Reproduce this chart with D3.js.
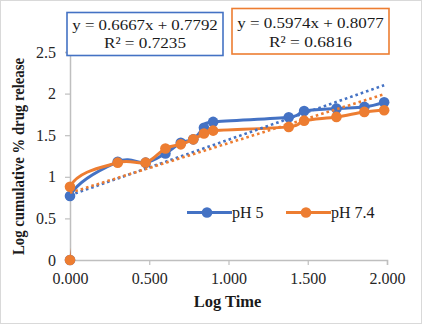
<!DOCTYPE html>
<html><head><meta charset="utf-8">
<script src="https://cdn.jsdelivr.net/npm/d3@7"></script>
<style>body{margin:0;background:#fff}svg{display:block}
svg text{font-family:"Liberation Serif","Times New Roman",Times,"DejaVu Serif","Noto Serif",serif !important}</style>
</head><body><svg id="c" width="422" height="324"></svg>
<script>
const logTime = [0, 0, 0.301, 0.477, 0.602, 0.699, 0.778, 0.845, 0.903, 1.380, 1.477, 1.681, 1.857, 1.982];
const ph5 =     [0, 0.77, 1.18, 1.17, 1.28, 1.41, 1.45, 1.59, 1.66, 1.715, 1.79, 1.82, 1.84, 1.895];
const ph74 =    [0, 0.88, 1.17, 1.17, 1.34, 1.39, 1.45, 1.52, 1.555, 1.60, 1.675, 1.72, 1.78, 1.80];
const seriesNames = ["pH 5", "pH 7.4"];
const colors = ["#4472C4", "#ED7D31"];
const trend = [{m: 0.6667, b: 0.7792, r2: 0.7235}, {m: 0.5974, b: 0.8077, r2: 0.6816}];
const xTicks = [0, 0.5, 1, 1.5, 2];
const yTicks = [0, 0.5, 1, 1.5, 2, 2.5];

const svg = d3.select("#c");
svg.append("rect").attr("x",0.5).attr("y",0.5).attr("width",421).attr("height",323)
  .attr("fill","#fff").attr("stroke","#d9d9d9");

const x = d3.scaleLinear().domain([0,2]).range([70,387]);
const y = d3.scaleLinear().domain([0,2.5]).range([260,52]);
const axisColor = "#bfbfbf";

svg.append("clipPath").attr("id","plotclip").append("rect")
  .attr("x",x(0)).attr("y",0).attr("width",x(2)-x(0)+10).attr("height",y(0));

const xa = svg.append("g").attr("transform","translate(0,260)")
  .call(d3.axisBottom(x).tickValues(xTicks).tickFormat(d3.format(".3f")).tickSize(5).tickPadding(8));
const ya = svg.append("g").attr("transform","translate(70,0)")
  .call(d3.axisLeft(y).tickValues(yTicks).tickFormat(d=>String(d)).tickSize(5).tickPadding(9));
[xa,ya].forEach(a=>{
  a.attr("font-family",null);
  a.select(".domain").attr("stroke",axisColor).attr("stroke-width",1.5);
  a.selectAll(".tick line").attr("stroke",axisColor).attr("stroke-width",1.2);
  a.selectAll(".tick text").attr("fill","#262626").style("font-size","16px");
});

const data = [ph5, ph74];
const line = d3.line().x(d=>x(d[0])).y(d=>y(d[1])).curve(d3.curveCatmullRom.alpha(0));
data.forEach((s,i)=>{
  const pts = logTime.map((t,j)=>[t,s[j]]);
  svg.append("path").attr("d",line(pts)).attr("fill","none").attr("clip-path","url(#plotclip)")
    .attr("stroke",colors[i]).attr("stroke-width",3).attr("stroke-linejoin","round");
  svg.selectAll(null).data(pts).enter().append("circle")
    .attr("cx",d=>x(d[0])).attr("cy",d=>y(d[1])).attr("r",5.3).attr("fill",colors[i]);
});
trend.forEach((t,i)=>{
  const x1 = d3.max(logTime);
  svg.append("line").attr("x1",x(0)).attr("y1",y(t.b)).attr("x2",x(x1)).attr("y2",y(t.m*x1+t.b))
    .attr("stroke",colors[i]).attr("stroke-width",2.6).attr("stroke-dasharray","2.6,3");
});

const boxes = [{x:67,y:12.5,w:156,h:43,l1:145.5,l2:82,b1:30,b2:47.8},
               {x:232,y:8.5,w:157,h:45.5,l1:146.5,l2:83,b1:28.3,b2:46.5}];
trend.forEach((t,i)=>{
  const b = boxes[i];
  svg.append("rect").attr("x",b.x).attr("y",b.y).attr("width",b.w).attr("height",b.h)
    .attr("fill","#fff").attr("stroke",colors[i]).attr("stroke-width",1.6);
  const cx = b.x + b.w/2;
  svg.append("text").attr("x",cx - b.l1/2).attr("y",b.b1)
    .attr("textLength",b.l1).attr("lengthAdjust","spacingAndGlyphs")
    .style("font-size","15.5px").attr("fill","#1a1a1a")
    .text(`y = ${t.m.toFixed(4)}x + ${t.b.toFixed(4)}`);
  svg.append("text").attr("x",cx - b.l2/2).attr("y",b.b2)
    .attr("textLength",b.l2).attr("lengthAdjust","spacingAndGlyphs")
    .style("font-size","15.5px").attr("fill","#1a1a1a")
    .text(`R² = ${t.r2.toFixed(4)}`);
});

const leg = [{x:187},{x:286}];
seriesNames.forEach((n,i)=>{
  const lx = leg[i].x, ly = 212.5;
  svg.append("line").attr("x1",lx).attr("x2",lx+45).attr("y1",ly).attr("y2",ly)
    .attr("stroke",colors[i]).attr("stroke-width",3);
  svg.append("circle").attr("cx",lx+20).attr("cy",ly).attr("r",5.3).attr("fill",colors[i]);
  svg.append("text").attr("x",lx+45).attr("y",ly+5.5).style("font-size","16px")
    .attr("fill","#1a1a1a").text(n);
});

svg.append("text").attr("x",227.5).attr("y",307).attr("text-anchor","middle")
  .style("font-size","16.5px").style("font-weight","bold").attr("fill","#1a1a1a").text("Log Time");
svg.append("text").attr("transform","translate(24,156.5) rotate(-90)")
  .attr("x",-98.5).attr("textLength",197).attr("lengthAdjust","spacingAndGlyphs")
  .style("font-size","16px").style("font-weight","bold").attr("fill","#1a1a1a")
  .text("Log cumulative % drug release");
</script></body></html>
